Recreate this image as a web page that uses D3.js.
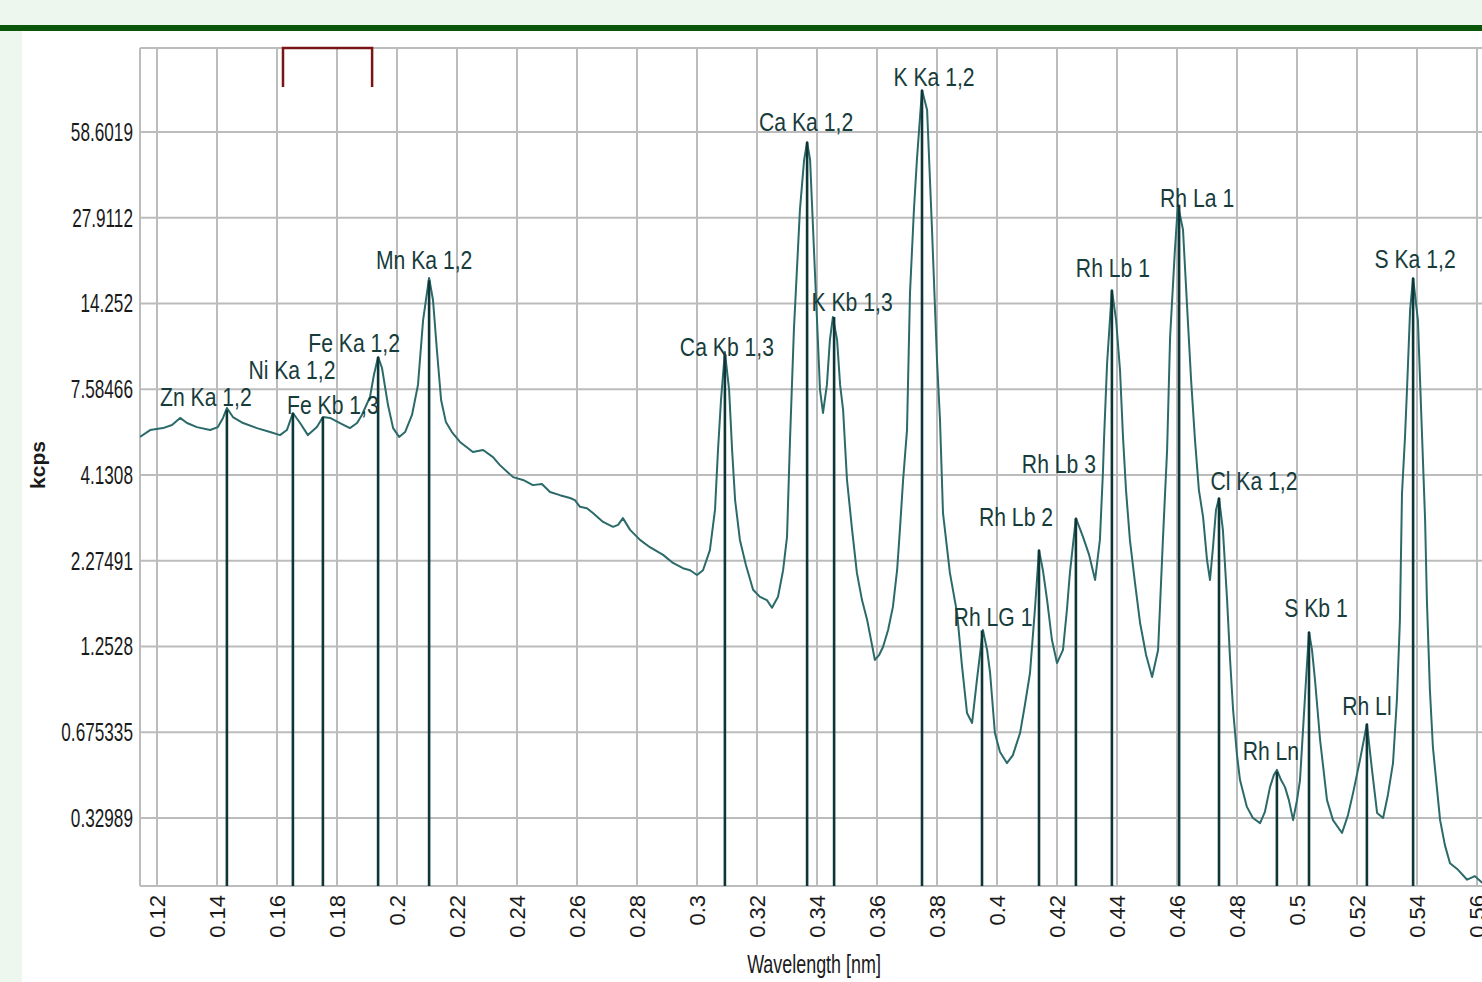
<!DOCTYPE html>
<html>
<head>
<meta charset="utf-8">
<script src="https://cdn.jsdelivr.net/npm/d3@7"></script>
<style>
  body { margin: 0; background: #eef7ee; }
  svg { display: block; }
  text { font-family: "Liberation Sans", Arial, sans-serif; }
</style>
</head>
<body>
<div id="chart"></div>
<script>
// Spectrum: wavelength (nm) and intensity (kcps)
const wavelength = [
  0.1143, 0.1177, 0.1220, 0.1250, 0.1277, 0.1300, 0.1333, 0.1377, 0.1403, 0.1420,
  0.1433, 0.1453, 0.1487, 0.1533, 0.1577, 0.1610, 0.1633, 0.1653, 0.1677, 0.1703,
  0.1733, 0.1753, 0.1777, 0.1810, 0.1843, 0.1867, 0.1883, 0.1910, 0.1923, 0.1937,
  0.1950, 0.1970, 0.1987, 0.2007, 0.2027, 0.2050, 0.2070, 0.2087, 0.2107, 0.2120,
  0.2133, 0.2147, 0.2163, 0.2183, 0.2210, 0.2253, 0.2287, 0.2320, 0.2343, 0.2387,
  0.2420, 0.2453, 0.2483, 0.2510, 0.2543, 0.2577, 0.2593, 0.2610, 0.2633, 0.2653,
  0.2687, 0.2720, 0.2737, 0.2753, 0.2777, 0.2810, 0.2843, 0.2887, 0.2920, 0.2953,
  0.2977, 0.3000, 0.3020, 0.3043, 0.3060, 0.3070, 0.3080, 0.3093, 0.3107, 0.3117,
  0.3127, 0.3143, 0.3163, 0.3187, 0.3210, 0.3233, 0.3250, 0.3270, 0.3287, 0.3300,
  0.3310, 0.3323, 0.3343, 0.3357, 0.3367, 0.3377, 0.3387, 0.3400, 0.3410, 0.3420,
  0.3433, 0.3443, 0.3453, 0.3467, 0.3477, 0.3487, 0.3500, 0.3517, 0.3533, 0.3550,
  0.3567, 0.3593, 0.3607, 0.3620, 0.3637, 0.3653, 0.3667, 0.3677, 0.3687, 0.3700,
  0.3710, 0.3723, 0.3733, 0.3750, 0.3767, 0.3783, 0.3800, 0.3810, 0.3820, 0.3843,
  0.3867, 0.3883, 0.3900, 0.3917, 0.3933, 0.3953, 0.3967, 0.3977, 0.3993, 0.4010,
  0.4033, 0.4053, 0.4077, 0.4093, 0.4110, 0.4127, 0.4140, 0.4153, 0.4167, 0.4183,
  0.4200, 0.4220, 0.4233, 0.4243, 0.4263, 0.4287, 0.4307, 0.4327, 0.4343, 0.4353,
  0.4357, 0.4367, 0.4383, 0.4397, 0.4410, 0.4420, 0.4430, 0.4443, 0.4460, 0.4477,
  0.4497, 0.4517, 0.4537, 0.4553, 0.4567, 0.4577, 0.4593, 0.4603, 0.4620, 0.4633,
  0.4647, 0.4660, 0.4673, 0.4687, 0.4700, 0.4710, 0.4720, 0.4730, 0.4740, 0.4753,
  0.4767, 0.4777, 0.4787, 0.4800, 0.4810, 0.4833, 0.4853, 0.4877, 0.4893, 0.4910,
  0.4923, 0.4933, 0.4947, 0.4960, 0.4973, 0.4987, 0.5000, 0.5010, 0.5020, 0.5030,
  0.5040, 0.5050, 0.5060, 0.5077, 0.5100, 0.5120, 0.5150, 0.5170, 0.5187, 0.5210,
  0.5233, 0.5250, 0.5267, 0.5287, 0.5303, 0.5320, 0.5333, 0.5343, 0.5350, 0.5360,
  0.5367, 0.5377, 0.5387, 0.5403, 0.5417, 0.5427, 0.5433, 0.5443, 0.5453, 0.5467,
  0.5477, 0.5493, 0.5510, 0.5537, 0.5567, 0.5593, 0.5617
];
const kcps = [
  5.41, 5.68, 5.76, 5.89, 6.19, 5.97, 5.80, 5.68, 5.80, 6.19,
  6.64, 6.23, 5.97, 5.76, 5.60, 5.48, 5.68, 6.41, 5.97, 5.48,
  5.80, 6.23, 6.19, 5.97, 5.76, 5.97, 6.32, 7.18, 8.42, 9.62,
  8.87, 6.78, 5.76, 5.41, 5.60, 6.32, 7.83, 12.62, 17.41, 14.65,
  10.12, 7.03, 6.01, 5.60, 5.22, 4.86, 4.93, 4.69, 4.43, 4.07,
  3.99, 3.85, 3.88, 3.67, 3.59, 3.52, 3.47, 3.31, 3.28, 3.17,
  2.98, 2.88, 2.92, 3.06, 2.82, 2.63, 2.50, 2.37, 2.24, 2.16,
  2.13, 2.06, 2.13, 2.45, 3.24, 4.93, 7.03, 9.98, 7.55, 4.93,
  3.47, 2.63, 2.21, 1.86, 1.77, 1.73, 1.64, 1.77, 2.13, 2.68,
  5.29, 11.73, 29.8, 46.0, 53.7, 46.0, 25.4, 12.62, 7.55, 6.41,
  7.83, 10.90, 12.90, 10.90, 7.83, 6.55, 3.99, 2.82, 2.09, 1.73,
  1.51, 1.137, 1.178, 1.248, 1.405, 1.65, 2.13, 2.88, 3.99, 5.68,
  15.47, 29.8, 46.0, 84.3, 70.9, 25.96, 9.41, 6.10, 3.17, 2.09,
  1.58, 1.096, 0.776, 0.722, 0.984, 1.405, 1.222, 1.035, 0.671, 0.573,
  0.522, 0.558, 0.672, 0.822, 1.035, 1.65, 2.45, 2.13, 1.73, 1.313,
  1.112, 1.222, 1.615, 2.09, 3.06, 2.68, 2.37, 1.99, 2.63, 4.19,
  5.41, 9.20, 15.84, 12.62, 8.74, 5.41, 3.72, 2.63, 1.95, 1.475,
  1.178, 1.006, 1.222, 2.63, 4.93, 11.14, 21.68, 31.2, 25.4, 14.3,
  8.12, 5.29, 3.72, 3.08, 2.29, 1.99, 2.50, 3.24, 3.52, 2.82,
  1.73, 1.137, 0.793, 0.558, 0.453, 0.362, 0.330, 0.316, 0.347, 0.427,
  0.473, 0.493, 0.453, 0.427, 0.383, 0.324, 0.383, 0.453, 0.686, 0.984,
  1.386, 1.222, 0.984, 0.633, 0.383, 0.324, 0.291, 0.338, 0.407, 0.536,
  0.717, 0.493, 0.344, 0.330, 0.400, 0.522, 0.852, 1.50, 3.64, 5.41,
  7.71, 13.59, 17.41, 12.62, 5.41, 3.02, 1.73, 0.916, 0.597, 0.417,
  0.324, 0.263, 0.226, 0.214, 0.197, 0.203, 0.192
];

// Identified lines
const peakNames = ["Zn Ka 1,2", "Ni Ka 1,2", "Fe Kb 1,3", "Fe Ka 1,2", "Mn Ka 1,2",
  "Ca Kb 1,3", "Ca Ka 1,2", "K Kb 1,3", "K Ka 1,2", "Rh LG 1", "Rh Lb 2", "Rh Lb 3",
  "Rh Lb 1", "Rh La 1", "Cl Ka 1,2", "Rh Ln", "S Kb 1", "Rh Ll", "S Ka 1,2"];
const peakWavelength = [0.1433, 0.1653, 0.1753, 0.1937, 0.2107, 0.3093, 0.3367, 0.3457,
  0.3750, 0.3950, 0.4140, 0.4263, 0.4383, 0.4607, 0.4740, 0.4933, 0.5040, 0.5233, 0.5387];
const peakKcps = [6.55, 6.41, 6.23, 9.62, 17.1, 9.8, 53.7, 12.9, 84.3, 1.40, 2.45, 3.06,
  15.8, 31.2, 3.52, 0.485, 1.386, 0.717, 17.4];

const yTicks = [58.6019, 27.9112, 14.252, 7.58466, 4.1308, 2.27491, 1.2528, 0.675335, 0.32989];
const xTicks = [0.12, 0.14, 0.16, 0.18, 0.2, 0.22, 0.24, 0.26, 0.28, 0.3, 0.32, 0.34, 0.36,
  0.38, 0.4, 0.42, 0.44, 0.46, 0.48, 0.5, 0.52, 0.54, 0.56];

// selected region marker at the top
const selection = [0.162, 0.1917];

// label nudges in px (dx, dy from the top of each line)
const labelNudge = [[-21, -13], [-1, -43], [10, -12], [-24, -14], [-5, -20], [2, -7], [-1, -20],
  [18, -15], [12, -13], [11, -13], [-23, -33], [-17, -54], [1, -22], [18, -7], [35, -17],
  [-6, -21], [7, -24], [0, -18], [2, -19]];

const W = 1482, H = 982;
const plot = { left: 140, top: 48, bottom: 886, right: 1482 };
const yStep = 85.75, yFirst = 132;
const narrow = 0.83; // horizontal squeeze, the original uses a condensed face

const svg = d3.select("#chart").append("svg")
  .attr("width", W)
  .attr("height", H);

// page frame
svg.append("rect").attr("width", W).attr("height", H).attr("fill", "#eef7ee");
svg.append("rect").attr("x", 22).attr("y", 31).attr("width", W - 22).attr("height", H - 31).attr("fill", "#fff");
svg.append("rect").attr("x", 0).attr("y", 25).attr("width", W).attr("height", 6).attr("fill", "#0a560a");

const x = d3.scaleLinear().domain([0.12, 0.56]).range([157, 1477]);
// log axis with evenly spaced (irregular) tick values
const y = d3.scaleLog().domain(yTicks).range(yTicks.map((d, i) => yFirst + i * yStep));

svg.append("defs").append("clipPath").attr("id", "clip")
  .append("rect")
  .attr("x", plot.left).attr("y", plot.top)
  .attr("width", plot.right - plot.left).attr("height", plot.bottom - plot.top);

// grid
const grid = svg.append("g").attr("stroke", "#bcbcbc").attr("stroke-width", 2);
grid.selectAll(".vx").data(xTicks).join("line")
  .attr("x1", d => x(d)).attr("x2", d => x(d))
  .attr("y1", plot.top).attr("y2", plot.bottom);
grid.selectAll(".hy").data(yTicks).join("line")
  .attr("x1", plot.left).attr("x2", plot.right)
  .attr("y1", d => y(d)).attr("y2", d => y(d));
grid.append("line").attr("x1", plot.left).attr("x2", plot.left).attr("y1", plot.top).attr("y2", plot.bottom);
grid.append("line").attr("x1", plot.left).attr("x2", plot.right).attr("y1", plot.top).attr("y2", plot.top);
grid.append("line").attr("x1", plot.left).attr("x2", plot.right).attr("y1", plot.bottom).attr("y2", plot.bottom);

// axes
const yAxis = svg.append("g")
  .attr("transform", `translate(${plot.left},0)`)
  .call(d3.axisLeft(y).tickValues(yTicks).tickFormat(d => String(d)).tickSize(0).tickPadding(8.5));
yAxis.select(".domain").remove();
yAxis.selectAll("text")
  .attr("font-family", "Liberation Sans")
  .attr("font-size", 20.7)
  .attr("fill", "#1a1a1a")
  .attr("transform", `scale(${narrow},1.25)`);

const xAxis = svg.append("g")
  .attr("transform", `translate(0,${plot.bottom})`)
  .call(d3.axisBottom(x).tickValues(xTicks).tickFormat(d => String(d)).tickSize(0));
xAxis.select(".domain").remove();
xAxis.selectAll("text")
  .attr("font-family", "Liberation Sans")
  .attr("font-size", 22)
  .attr("fill", "#1a1a1a")
  .attr("transform", "rotate(-90)")
  .attr("x", -9)
  .attr("y", 0)
  .attr("dy", "0.35em")
  .style("text-anchor", "end");

svg.append("text")
  .attr("transform", `translate(814,973) scale(${narrow},1.2)`)
  .attr("text-anchor", "middle")
  .attr("font-size", 21.6)
  .attr("fill", "#1a1a1a")
  .text("Wavelength [nm]");

svg.append("text")
  .attr("transform", "translate(45,465) rotate(-90)")
  .attr("text-anchor", "middle")
  .attr("font-weight", "bold")
  .attr("font-size", 21)
  .attr("fill", "#1a1a1a")
  .text("kcps");

// spectrum
const spectrum = wavelength.map((w, i) => ({ w, v: kcps[i] }));
const line = d3.line().x(d => x(d.w)).y(d => y(d.v));
const inner = svg.append("g").attr("clip-path", "url(#clip)");
inner.append("path")
  .datum(spectrum)
  .attr("d", line)
  .attr("fill", "none")
  .attr("stroke", "#2c6a6a")
  .attr("stroke-width", 2)
  .attr("stroke-linejoin", "round");

// line markers
inner.selectAll(".marker").data(peakWavelength).join("line")
  .attr("x1", d => x(d)).attr("x2", d => x(d))
  .attr("y1", (d, i) => y(peakKcps[i])).attr("y2", plot.bottom)
  .attr("stroke", "#0f3636")
  .attr("stroke-width", 2.6);

svg.append("g").selectAll("text").data(peakNames).join("text")
  .attr("transform", (d, i) =>
    `translate(${x(peakWavelength[i]) + labelNudge[i][0]},${y(peakKcps[i]) + labelNudge[i][1]}) scale(${narrow},1)`)
  .attr("dy", "0.35em")
  .attr("text-anchor", "middle")
  .attr("font-size", 25.5)
  .attr("fill", "#173c3c")
  .text(d => d);

// selection bracket
svg.append("path")
  .attr("d", `M${x(selection[0])},87V${plot.top}H${x(selection[1])}V87`)
  .attr("fill", "none")
  .attr("stroke", "#7b1414")
  .attr("stroke-width", 2.5);
</script>
</body>
</html>
